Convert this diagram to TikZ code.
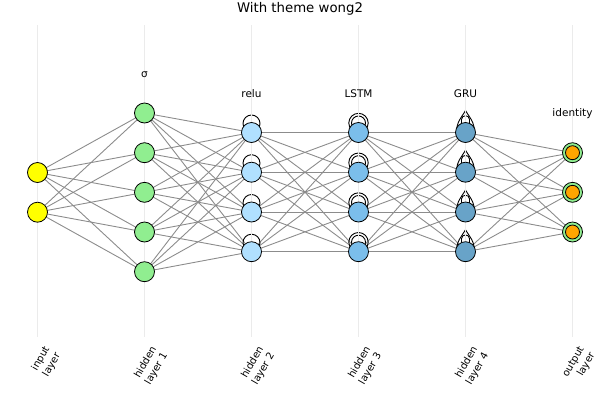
\documentclass[tikz,border=0pt]{standalone}
\usepackage{fontspec}
\setmainfont{DejaVu Sans}
\pgfdeclarelayer{bg}
\pgfdeclarelayer{mid}
\pgfsetlayers{bg,mid,main}
\definecolor{edgegray}{RGB}{140,140,140}
\definecolor{gridgray}{RGB}{235,235,235}
\definecolor{cIn}{RGB}{255,255,0}
\definecolor{cH1}{RGB}{144,238,144}
\definecolor{cH2}{RGB}{176,224,255}
\definecolor{cH3}{RGB}{123,190,235}
\definecolor{cH4}{RGB}{104,163,200}
\definecolor{cOut}{RGB}{255,165,0}
\begin{document}
\begin{tikzpicture}[x=1pt,y=-1pt,
  neuron/.style={circle,draw=black,line width=0.8pt,minimum size=20pt,inner sep=0pt},
  outneuron/.style={neuron,fill=cH1,
    append after command={node[circle,draw=black,line width=0.8pt,fill=cOut,minimum size=14pt,inner sep=0pt] at (\tikzlastnode.center) {}}},
  edge/.style={draw=edgegray,line width=0.9pt},
  gridline/.style={draw=gridgray,line width=0.6pt},
  loopline/.style={draw=black,line width=0.9pt},
  lbl/.style={font=\fontsize{10.5}{12}\selectfont},
  axlbl/.style={font=\fontsize{10}{12.5}\selectfont,rotate=60,anchor=north east,align=right,inner sep=0pt},
]
\useasboundingbox (0,0) rectangle (600,400);
% grid lines
\foreach \x [count=\i] in {37.5,144.5,251.5,358.5,465.5,572.5}
  \draw[gridline] (\x,25) coordinate (gt\i) -- (\x,337) coordinate (gb\i);
% title
\node[font=\fontsize{13.3}{15}\selectfont] (title) at (300,9) {With theme wong2};
% nodes
\foreach \y [count=\i] in {172.5,212.2}
  \node[neuron,fill=cIn] (A\i) at (37.5,\y) {};
\foreach \y [count=\i] in {113,152.7,192.3,232,271.7}
  \node[neuron,fill=cH1] (B\i) at (144.5,\y) {};
\foreach \y [count=\i] in {132.5,172.2,212,251.7}
  \node[neuron,fill=cH2] (C\i) at (251.5,\y) {};
\foreach \y [count=\i] in {132.5,172.2,212,251.7}
  \node[neuron,fill=cH3] (D\i) at (358.5,\y) {};
\foreach \y [count=\i] in {132.5,172.2,212,251.7}
  \node[neuron,fill=cH4] (E\i) at (465.5,\y) {};
\foreach \y [count=\i] in {152.7,192.3,232}
  \node[outneuron] (F\i) at (572.5,\y) {};
% layer labels
\node[lbl] (lb) at (144.5,75) {σ};
\node[lbl] (lc) at (251.5,94) {relu};
\node[lbl] (ld) at (358.5,94) {LSTM};
\node[lbl] (le) at (465.5,94) {GRU};
\node[lbl] (lf) at (572.5,114) {identity};
% axis labels
\node[axlbl] (x1) at (43,345) {input\\layer};
\node[axlbl] (x2) at (150,345) {hidden\\layer 1};
\node[axlbl] (x3) at (257,345) {hidden\\layer 2};
\node[axlbl] (x4) at (364,345) {hidden\\layer 3};
\node[axlbl] (x5) at (471,345) {hidden\\layer 4};
\node[axlbl] (x6) at (578,345) {output\\layer};
\begin{pgfonlayer}{bg}
  \foreach \i in {1,2} \foreach \j in {1,...,5} \draw[edge] (A\i.center) -- (B\j.center);
  \foreach \i in {1,...,5} \foreach \j in {1,...,4} \draw[edge] (B\i.center) -- (C\j.center);
  \foreach \i in {1,...,4} \foreach \j in {1,...,4} \draw[edge] (C\i.center) -- (D\j.center);
  \foreach \i in {1,...,4} \foreach \j in {1,...,4} \draw[edge] (D\i.center) -- (E\j.center);
  \foreach \i in {1,...,4} \foreach \j in {1,...,3} \draw[edge] (E\i.center) -- (F\j.center);
\end{pgfonlayer}
\begin{pgfonlayer}{mid}
  % self loops
  \foreach \i in {1,...,4} {
    \draw[loopline] ([yshift=9pt]C\i.center) circle (8.5);
    \draw[loopline] ([yshift=9.5pt]D\i.center) circle (9.7);
    \draw[loopline] ([yshift=9.5pt]D\i.center) circle (7);
    \begin{scope}[shift={(E\i.center)}]
      \draw[loopline] (-9,0) .. controls (-9,-11) and (-4,-15) .. (0,-22) .. controls (4,-15) and (9,-11) .. (9,0);
      \draw[loopline] (-4,0) -- (-4,-13) .. controls (-4,-18) and (4,-18) .. (4,-13) -- (4,0);
    \end{scope}
  }
\end{pgfonlayer}
\end{tikzpicture}
\end{document}
